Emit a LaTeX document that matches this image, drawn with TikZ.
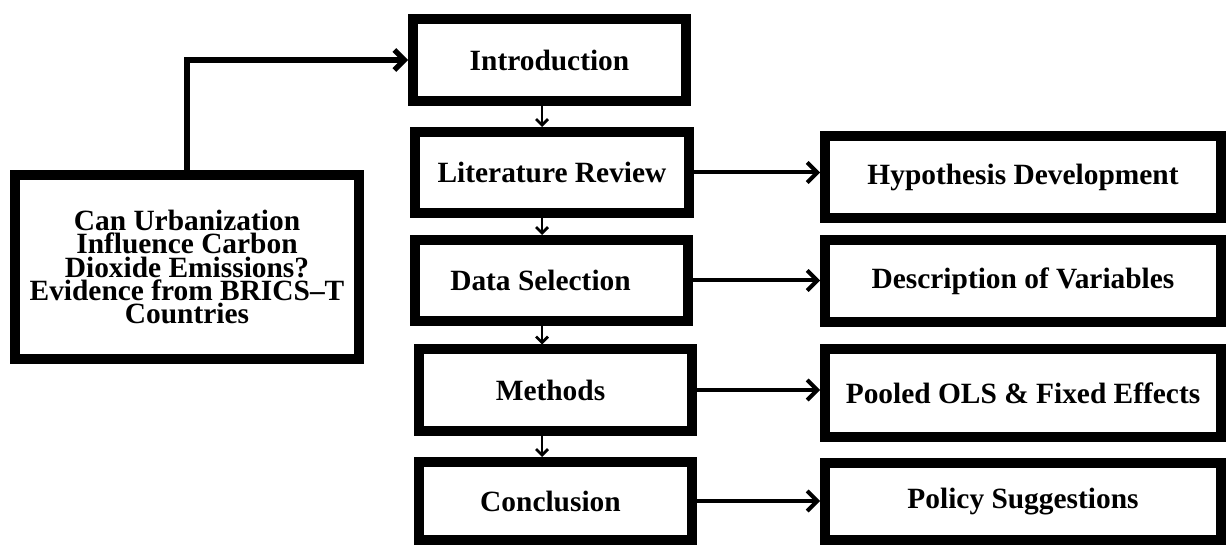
\documentclass[tikz,border=0pt]{standalone}
\usepackage{fontspec}
\setmainfont{Liberation Serif}
\usetikzlibrary{arrows.meta}
\tikzset{
  box/.style={draw, line width=5pt, inner sep=0pt, align=center,
    font=\bfseries\fontsize{14.7}{11.6}\selectfont},
  bigarrow/.style={line width=2pt, -{Straight Barb[length=5pt,width=10pt]}},
  toparrow/.style={line width=2.6pt, -{Straight Barb[length=5pt,width=10pt]}},
  smallarrow/.style={line width=1.4pt, -{Straight Barb[length=3pt,width=6pt]}}
}
\begin{document}
\begin{tikzpicture}[x=0.5pt,y=-0.5pt]
\useasboundingbox (0,0) rectangle (1227,545);
% left box
\node[box, minimum width=172pt, minimum height=92pt] (title) at (187,267)
  {Can Urbanization\\Influence Carbon\\Dioxide Emissions?\\Evidence from BRICS--T\\Countries};
% middle column
\node[box, minimum width=136.5pt, minimum height=41pt] (intro) at (549.5,60) {Introduction};
\node[box, minimum width=137pt, minimum height=40.5pt] (lit) at (552,172.5) {Literature Review};
\node[box, minimum width=136.5pt, minimum height=40.5pt] (data) at (551.5,280.5) {Data Selection\hspace*{11pt}};
\node[box, minimum width=136.5pt, minimum height=40.5pt] (meth) at (555.5,390) {Methods\hspace*{5pt}};
\node[box, minimum width=136.5pt, minimum height=39pt] (concl) at (555.5,501) {Conclusion\hspace*{5pt}};
% right column
\node[box, minimum width=198pt, minimum height=41pt] (hyp) at (1023,177) {Hypothesis Development};
\node[box, minimum width=198pt, minimum height=41pt] (desc) at (1023,281) {Description of Variables};
\node[box, minimum width=198pt, minimum height=44pt] (pool) at (1023,393) {Pooled OLS \& Fixed Effects};
\node[box, minimum width=198pt, minimum height=38.5pt] (pol) at (1023,501.5) {Policy Suggestions};
% connectors
\coordinate (vx) at (542,0);
\draw[toparrow] (title.north) |- (intro.west);
\draw[smallarrow] (intro.south -| vx) -- (lit.north -| vx);
\draw[smallarrow] (lit.south -| vx) -- (data.north -| vx);
\draw[smallarrow] (data.south -| vx) -- (meth.north -| vx);
\draw[smallarrow] (meth.south -| vx) -- (concl.north -| vx);
\draw[bigarrow] (lit.east) -- (lit.east -| hyp.west);
\draw[bigarrow] (data.east) -- (data.east -| desc.west);
\draw[bigarrow] (meth.east) -- (meth.east -| pool.west);
\draw[bigarrow] (concl.east) -- (concl.east -| pol.west);
\end{tikzpicture}
\end{document}
